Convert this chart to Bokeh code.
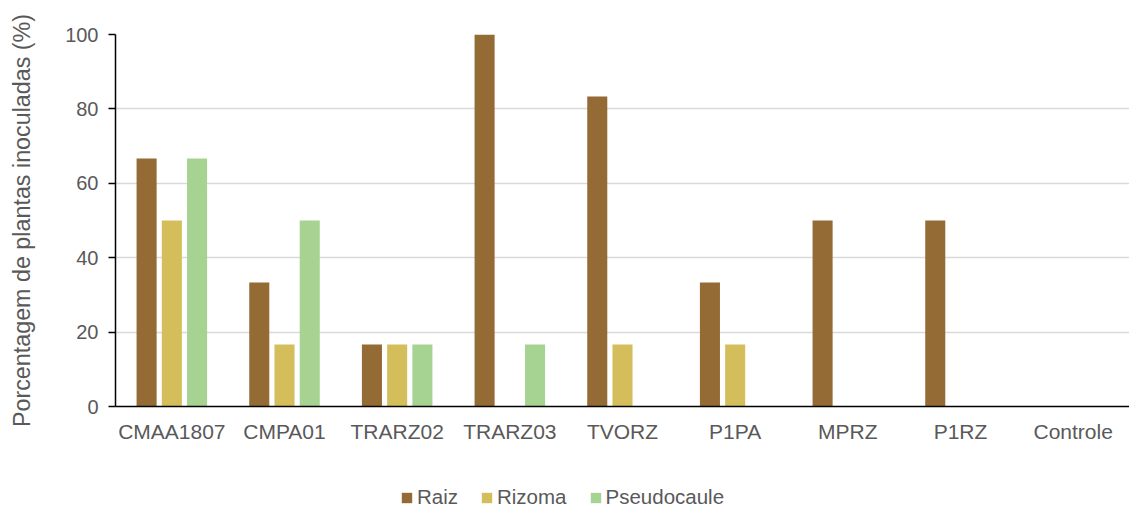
from bokeh.plotting import figure
from bokeh.models import ColumnDataSource, Range1d, Legend, LegendItem, FactorRange
from bokeh.layouts import column
from bokeh.transform import dodge
from bokeh.embed import file_html
from bokeh.resources import INLINE

categories = ["CMAA1807", "CMPA01", "TRARZ02", "TRARZ03", "TVORZ", "P1PA", "MPRZ", "P1RZ", "Controle"]
raiz = [66.7, 33.3, 16.7, 100.0, 83.3, 33.3, 50.0, 50.0, 0.0]
rizoma = [50.0, 16.7, 16.7, 0.0, 16.7, 16.7, 0.0, 0.0, 0.0]
pseudocaule = [66.7, 50.0, 16.7, 16.7, 0.0, 0.0, 0.0, 0.0, 0.0]
series_names = ["Raiz", "Rizoma", "Pseudocaule"]
y_ticks = [0, 20, 40, 60, 80, 100]

colors = ["#956B35", "#D4BE5B", "#A6D392"]
font = "Liberation Sans"
txt = "#595959"

src = ColumnDataSource(dict(cat=categories, raiz=raiz, rizoma=rizoma, pseudocaule=pseudocaule))

p = figure(x_range=FactorRange(*categories, range_padding=0), y_range=Range1d(0, 100),
           width=1129, height=460, output_backend="svg", toolbar_location=None,
           min_border_left=115, min_border_top=34, min_border_right=0, min_border_bottom=54)

offsets = [-0.224, 0.0, 0.224]
fields = ["raiz", "rizoma", "pseudocaule"]
for f, off, c in zip(fields, offsets, colors):
    p.vbar(x=dodge("cat", off, range=p.x_range), top=f, width=0.178, source=src,
           fill_color=c, line_color=c, line_alpha=0)

p.outline_line_color = None
p.xgrid.grid_line_color = None
p.ygrid.grid_line_color = "#D9D9D9"
p.ygrid.grid_line_width = 1.3
p.yaxis.ticker = y_ticks
p.yaxis.minor_tick_line_color = None
p.yaxis.major_tick_out = 7
p.yaxis.major_tick_in = 0
p.yaxis.axis_line_color = "black"
p.yaxis.axis_line_width = 1.5
p.yaxis.major_tick_line_color = "black"
p.yaxis.major_tick_line_width = 1.5
p.yaxis.major_label_text_font = font
p.yaxis.major_label_text_font_size = "20px"
p.yaxis.major_label_text_color = txt
p.yaxis.major_label_standoff = 10
p.yaxis.axis_label = "Porcentagem de plantas inoculadas (%)"
p.yaxis.axis_label_text_font = font
p.yaxis.axis_label_text_font_size = "23.3px"
p.yaxis.axis_label_text_font_style = "normal"
p.yaxis.axis_label_text_color = txt
p.yaxis.axis_label_standoff = 27

p.xaxis.axis_line_color = "black"
p.xaxis.axis_line_width = 1.5
p.xaxis.major_tick_line_color = None
p.xaxis.minor_tick_line_color = None
p.xaxis.major_label_text_font = font
p.xaxis.major_label_text_font_size = "21px"
p.xaxis.major_label_text_color = txt
p.xaxis.major_label_standoff = 7

# legend strip below the chart (its frame is aligned with the chart frame by the column layout)
lf = figure(width=1129, height=51, x_range=Range1d(0, 1), y_range=Range1d(0, 1),
            output_backend="svg", toolbar_location=None,
            min_border_left=0, min_border_right=0, min_border_top=0, min_border_bottom=0)
lf.axis.visible = False
lf.grid.visible = False
lf.outline_line_color = None
dummies = [lf.vbar(x=[-5], top=[-5], bottom=[-6], width=0.1, fill_color=c, line_color=c, line_alpha=0)
           for c in colors]
legend = Legend(items=[LegendItem(label=n, renderers=[r]) for n, r in zip(series_names, dummies)],
                orientation="horizontal", location=(285, 2),
                label_text_font=font, label_text_font_size="20.5px", label_text_color=txt,
                glyph_width=13, glyph_height=13, label_standoff=4, spacing=22,
                padding=2, margin=0, border_line_color=None, background_fill_alpha=0)
lf.add_layout(legend, "center")

layout = column(p, lf, spacing=0)
open("out.html", "w").write(file_html(layout, INLINE))
